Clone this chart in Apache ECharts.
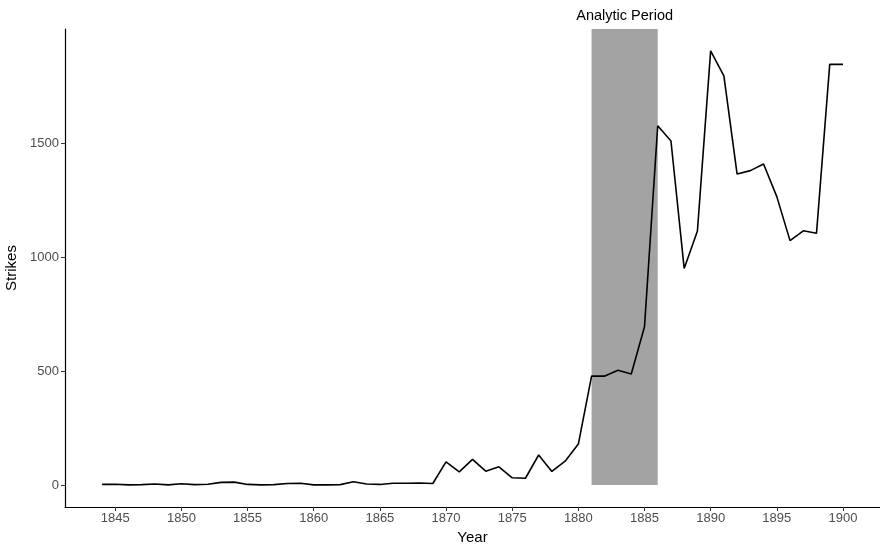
<!DOCTYPE html>
<html>
<head>
<meta charset="utf-8">
<script src="https://cdn.jsdelivr.net/npm/echarts@6/dist/echarts.min.js"></script>
<style>
  html, body { margin: 0; padding: 0; background: #fff; }
  #strikes { width: 880px; height: 546px; }
</style>
</head>
<body>
<div id="strikes"></div>
<script>
// strikes per year
var years = [];
for (var y = 1844; y <= 1900; y++) years.push(y);
var strikes = [
  3, 4, 1, 2, 5, 1, 6, 2, 4, 12,      // 1844-1853
  13, 3, 1, 2, 7, 8, 1, 1, 2, 15,     // 1854-1863
  5, 3, 8, 8, 9, 7, 102, 58, 113, 61, // 1864-1873
  80, 32, 30, 132, 60, 105, 180, 478, 478, 504, // 1874-1883
  487, 694, 1576, 1509, 950, 1114, 1904, 1794, 1364, 1379, // 1884-1893
  1408, 1265, 1072, 1115, 1104, 1845, 1845 // 1894-1900
];
var xTicks = [1845, 1850, 1855, 1860, 1865, 1870, 1875, 1880, 1885, 1890, 1895, 1900];
var yTicks = [0, 500, 1000, 1500];
var period = [1881, 1886];
var periodLabel = 'Analytic Period';

var xMin = 1841.2, xMax = 1902.8, yMin = -96, yMax = 2000;

var chart = echarts.init(document.getElementById('strikes'));
var font = 'Liberation Sans, Arial, sans-serif';
var axisText = {
  color: '#4d4d4d', fontSize: 13, fontFamily: font,
  formatter: function (v) { return String(v); }
};

var option = {
  animation: false,
  backgroundColor: '#fff',
  grid: { left: 65, right: 0, top: 29, bottom: 39, outerBoundsMode: 'none', containLabel: false },
  xAxis: {
    type: 'value',
    min: xMin,
    max: xMax,
    name: 'Year',
    nameLocation: 'middle',
    nameGap: 23,
    nameTextStyle: { color: '#000', fontSize: 15, fontFamily: font },
    axisLine: { show: true, onZero: false, lineStyle: { color: '#000', width: 1.2 } },
    axisTick: { show: true, length: 4, customValues: xTicks, lineStyle: { color: '#333' } },
    axisLabel: Object.assign({ customValues: xTicks, margin: 5 }, axisText),
    splitLine: { show: false }
  },
  yAxis: {
    type: 'value',
    min: yMin,
    max: yMax,
    name: 'Strikes',
    nameLocation: 'middle',
    nameGap: 43,
    nameRotate: 90,
    nameTextStyle: { color: '#000', fontSize: 15, fontFamily: font },
    axisLine: { show: true, onZero: false, lineStyle: { color: '#000', width: 1.2 } },
    axisTick: { show: true, length: 4, customValues: yTicks, lineStyle: { color: '#333' } },
    axisLabel: Object.assign({ customValues: yTicks, margin: 6 }, axisText),
    splitLine: { show: false }
  },
  series: [{
    type: 'line',
    data: years.map(function (yr, i) { return [yr, strikes[i]]; }),
    showSymbol: false,
    lineStyle: { color: '#000', width: 1.6 },
    z: 3,
    markArea: {
      silent: true,
      itemStyle: { color: '#a3a3a3', opacity: 1 },
      label: {
        show: true,
        position: 'top',
        distance: 6,
        color: '#000',
        fontSize: 14.5,
        fontFamily: font
      },
      data: [[
        { name: periodLabel, xAxis: period[0], yAxis: 0 },
        { xAxis: period[1], yAxis: yMax }
      ]]
    }
  }]
};
chart.setOption(option);
</script>
</body>
</html>
